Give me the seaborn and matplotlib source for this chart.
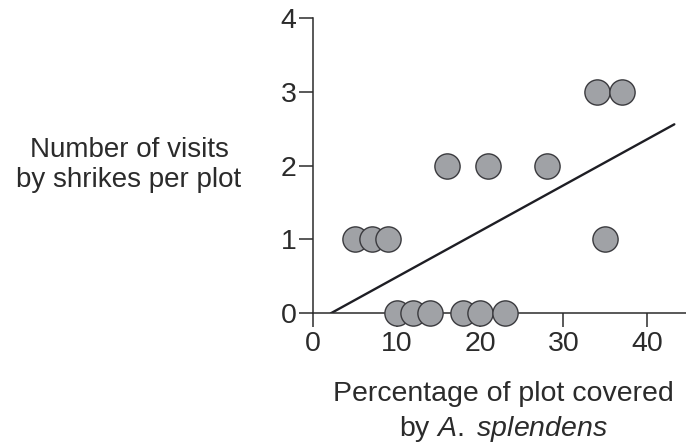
import numpy as np
import pandas as pd
import matplotlib
matplotlib.use("Agg")
import matplotlib.pyplot as plt
import seaborn as sns

# data
cover_pct = [5, 7, 9, 10, 12, 14, 18, 20, 23, 16, 21, 28, 34, 37, 35]
visits = [1, 1, 1, 0, 0, 0, 0, 0, 0, 2, 2, 2, 3, 3, 1]
trend_x = [2.1, 43.3]
trend_y = [0.0, 2.56]
x_ticks = [0, 10, 20, 30, 40]
y_ticks = [0, 1, 2, 3, 4]

df = pd.DataFrame({"cover": cover_pct, "visits": visits})
trend = pd.DataFrame({"x": trend_x, "y": trend_y})

sns.set_style("white")
plt.rcParams["font.family"] = ["Liberation Sans", "DejaVu Sans"]
plt.rcParams["mathtext.fontset"] = "custom"
plt.rcParams["mathtext.rm"] = "Liberation Sans"
plt.rcParams["mathtext.it"] = "Liberation Sans:italic"

ink = "#2b2b2b"
fig = plt.figure(figsize=(6.86, 4.45), dpi=100)
ax = fig.add_axes([313.3 / 686, (445 - 313.3) / 445, 1 - 313.3 / 686, (313.3 - 18) / 445])

sns.lineplot(data=trend, x="x", y="y", ax=ax, color="#1e1e24", linewidth=1.7, zorder=2)
sns.scatterplot(data=df, x="cover", y="visits", ax=ax, s=330, color="#a0a2a6",
                edgecolor="#3a3a3e", linewidth=1.0, zorder=5, clip_on=False)

ax.set_xlim(0, 44.7)
ax.set_ylim(0, 4)
ax.set_xticks(x_ticks)
ax.set_yticks(y_ticks)
ax.set_xlabel("")
ax.set_ylabel("")

sns.despine(ax=ax)
ax.spines["left"].set_bounds(0, 4)
for side in ["left", "bottom"]:
    ax.spines[side].set_color(ink)
    ax.spines[side].set_linewidth(1.1)
ax.tick_params(axis="both", which="major", direction="out", length=10, width=1.1,
               color=ink, labelsize=20.5, labelcolor=ink, pad=2)
ax.tick_params(axis="x", pad=3, bottom=True)
ax.tick_params(axis="y", left=True)

fig.text(129 / 686, 1 - 165 / 445, "Number of visits\nby shrikes per plot",
         ha="center", va="center", fontsize=20, color=ink, linespacing=1.2)
fig.text(503 / 686, 1 - 394 / 445, "Percentage of plot covered",
         ha="center", va="center", fontsize=20.5, color=ink)
fig.text(503 / 686, 1 - 429 / 445, r"by $\mathit{A.}$ $\mathit{splendens}$",
         ha="center", va="center", fontsize=20.5, color=ink)

fig.savefig("out.png", dpi=100)
